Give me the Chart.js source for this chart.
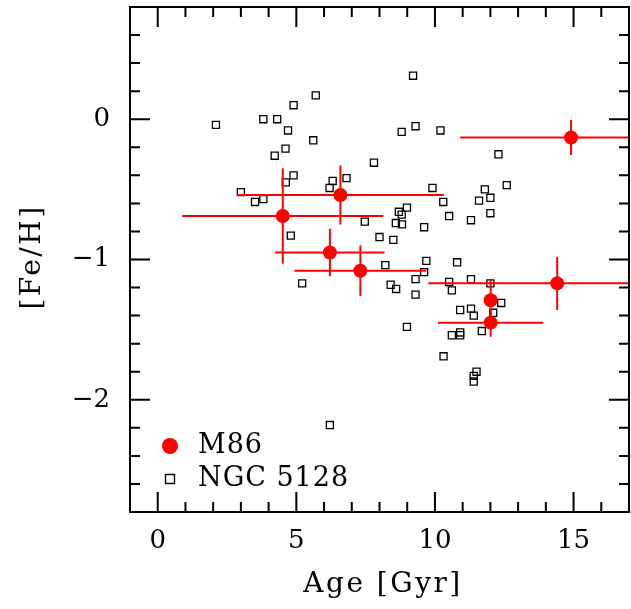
<!DOCTYPE html>
<html>
<head>
<meta charset="utf-8">
<script src="https://cdn.jsdelivr.net/npm/chart.js@4/dist/chart.umd.min.js"></script>
<style>
  html, body { margin: 0; padding: 0; background: #fff; overflow: hidden; }
  canvas { display: block; }
</style>
</head>
<body>
<canvas id="chart" width="636" height="609"></canvas>
<script>
// M86 clusters (red dots with error bars)
const m86Age = [14.91, 4.51, 6.59, 6.21, 7.31, 14.41, 12.01, 12.01];
const m86Feh = [-0.13, -0.69, -0.54, -0.95, -1.08, -1.17, -1.29, -1.45];
const m86AgeErr = [4.0, 3.63, 3.73, 1.97, 2.38, 4.65, 0, 1.9];
const m86FehErr = [0.125, 0.34, 0.21, 0.17, 0.18, 0.19, 0.15, 0.10];

// NGC 5128 clusters (open squares)
const ngcAge = [2.10, 3.81, 4.31, 4.90, 5.70, 4.70, 5.61, 4.61, 4.22, 4.90,
  4.62, 3.00, 3.81, 3.51, 6.31, 6.81, 6.20, 7.47, 4.80, 9.21,
  8.80, 9.30, 10.20, 7.80, 12.29, 12.59, 9.91, 11.80, 12.00, 11.59,
  10.30, 8.99, 8.70, 8.80, 12.00, 10.51, 11.30, 8.59, 8.81, 9.61,
  8.00, 8.50, 9.69, 10.80, 8.21, 9.61, 9.30, 8.40, 8.60, 9.30,
  10.51, 11.30, 10.61, 12.00, 12.39, 10.91, 11.30, 11.40, 12.10, 8.99,
  11.69, 10.61, 10.91, 10.91, 10.31, 11.50, 11.40, 11.40, 5.21, 6.21];
const ngcFeh = [-0.04, 0.00, 0.00, 0.10, 0.17, -0.08, -0.15, -0.21, -0.26, -0.40,
  -0.45, -0.52, -0.57, -0.59, -0.44, -0.42, -0.49, -0.73, -0.83, 0.31,
  -0.09, -0.05, -0.08, -0.31, -0.25, -0.47, -0.49, -0.50, -0.56, -0.58,
  -0.59, -0.63, -0.66, -0.68, -0.67, -0.69, -0.72, -0.74, -0.75, -0.77,
  -0.84, -0.86, -1.01, -1.02, -1.04, -1.09, -1.14, -1.18, -1.21, -1.25,
  -1.16, -1.14, -1.22, -1.17, -1.31, -1.36, -1.35, -1.40, -1.38, -1.48,
  -1.51, -1.54, -1.52, -1.54, -1.69, -1.80, -1.83, -1.87, -1.17, -2.18];

// axes
const xTicks = [0, 5, 10, 15];
const yTicks = [0, -1, -2];
const xRange = [-1, 17];
const yRange = [-2.8, 0.8];

const FONT = "'DejaVu Serif', serif";
const RED = '#ff0000';

// error bars, frame ticks, titles and legend
const extras = {
  id: 'extras',
  beforeDatasetDraw(chart, args) {
    if (args.index !== 0) return;
    const {ctx, chartArea: a, scales: {x, y}} = chart;
    ctx.save();
    ctx.beginPath();
    ctx.rect(a.left, a.top, a.right - a.left, a.bottom - a.top);
    ctx.clip();
    ctx.strokeStyle = RED;
    ctx.lineWidth = 2;
    m86Age.forEach((age, i) => {
      const px = x.getPixelForValue(age);
      const py = y.getPixelForValue(m86Feh[i]);
      ctx.beginPath();
      if (m86AgeErr[i] > 0) {
        ctx.moveTo(x.getPixelForValue(age - m86AgeErr[i]), py);
        ctx.lineTo(x.getPixelForValue(age + m86AgeErr[i]), py);
      }
      ctx.moveTo(px, y.getPixelForValue(m86Feh[i] + m86FehErr[i]));
      ctx.lineTo(px, y.getPixelForValue(m86Feh[i] - m86FehErr[i]));
      ctx.stroke();
    });
    ctx.restore();
  },
  afterDraw(chart) {
    const {ctx, chartArea: a, scales: {x, y}} = chart;
    ctx.save();
    ctx.strokeStyle = '#000';
    ctx.lineWidth = 2;
    ctx.strokeRect(a.left, a.top, a.right - a.left, a.bottom - a.top);

    // inward ticks on all four sides
    ctx.beginPath();
    for (let v = xRange[0]; v <= xRange[1]; v++) {
      const len = v % 5 === 0 ? 20 : 10;
      const px = x.getPixelForValue(v);
      ctx.moveTo(px, a.bottom); ctx.lineTo(px, a.bottom - len);
      ctx.moveTo(px, a.top); ctx.lineTo(px, a.top + len);
    }
    for (let k = -14; k <= 4; k++) {
      const v = k / 5;
      const len = k % 5 === 0 ? 20 : 10;
      const py = y.getPixelForValue(v);
      ctx.moveTo(a.left, py); ctx.lineTo(a.left + len, py);
      ctx.moveTo(a.right, py); ctx.lineTo(a.right - len, py);
    }
    ctx.stroke();

    // axis titles
    ctx.fillStyle = '#000';
    ctx.font = '28px ' + FONT;
    ctx.letterSpacing = '2.5px';
    ctx.textAlign = 'center';
    ctx.textBaseline = 'middle';
    ctx.fillText('Age [Gyr]', 383, 585);
    ctx.save();
    ctx.translate(33, 257);
    ctx.rotate(-Math.PI / 2);
    ctx.fillText('[Fe/H]', 0, 0);
    ctx.restore();

    // legend
    ctx.fillStyle = RED;
    ctx.beginPath();
    ctx.arc(170, 446, 8, 0, Math.PI * 2);
    ctx.fill();
    ctx.strokeStyle = '#000';
    ctx.lineWidth = 1.4;
    ctx.strokeRect(165.5, 474.5, 9, 9);
    ctx.fillStyle = '#000';
    ctx.font = '27px ' + FONT;
    ctx.letterSpacing = '1px';
    ctx.textAlign = 'left';
    ctx.fillText(chart.data.datasets[0].label, 198, 446);
    ctx.fillText(chart.data.datasets[1].label, 198, 479);
    ctx.restore();
  }
};

new Chart(document.getElementById('chart'), {
  type: 'scatter',
  data: {
    datasets: [
      {
        label: 'M86',
        data: m86Age.map((a, i) => ({x: a, y: m86Feh[i]})),
        pointStyle: 'circle',
        pointRadius: 7,
        backgroundColor: RED,
        borderColor: RED,
        borderWidth: 0
      },
      {
        label: 'NGC 5128',
        data: ngcAge.map((a, i) => ({x: a, y: ngcFeh[i]})),
        pointStyle: 'rect',
        pointRadius: 5,
        backgroundColor: 'rgba(0,0,0,0)',
        borderColor: '#000',
        borderWidth: 1.3
      }
    ]
  },
  options: {
    responsive: false,
    animation: false,
    layout: { padding: { left: 0, top: 6, right: 2, bottom: 0 } },
    plugins: { legend: { display: false }, tooltip: { enabled: false } },
    scales: {
      x: {
        type: 'linear',
        min: xRange[0],
        max: xRange[1],
        afterBuildTicks: s => { s.ticks = xTicks.map(v => ({value: v})); },
        afterFit: s => {
          s.height = 97;
          s.paddingLeft = 0;
          s.paddingRight = 0;
        },
        grid: { display: false, drawTicks: false },
        border: { display: false },
        ticks: { color: '#000', padding: 14, font: { family: FONT, size: 26 } }
      },
      y: {
        type: 'linear',
        min: yRange[0],
        max: yRange[1],
        afterBuildTicks: s => { s.ticks = yTicks.map(v => ({value: v})); },
        afterFit: s => {
          s.width = 130;
          s.paddingTop = 0;
          s.paddingBottom = 0;
        },
        grid: { display: false, drawTicks: false },
        border: { display: false },
        ticks: {
          color: '#000',
          padding: 20,
          font: { family: FONT, size: 26 },
          callback: v => (v < 0 ? '\u2212' + Math.abs(v) : String(v))
        }
      }
    }
  },
  plugins: [extras]
});
</script>
</body>
</html>
